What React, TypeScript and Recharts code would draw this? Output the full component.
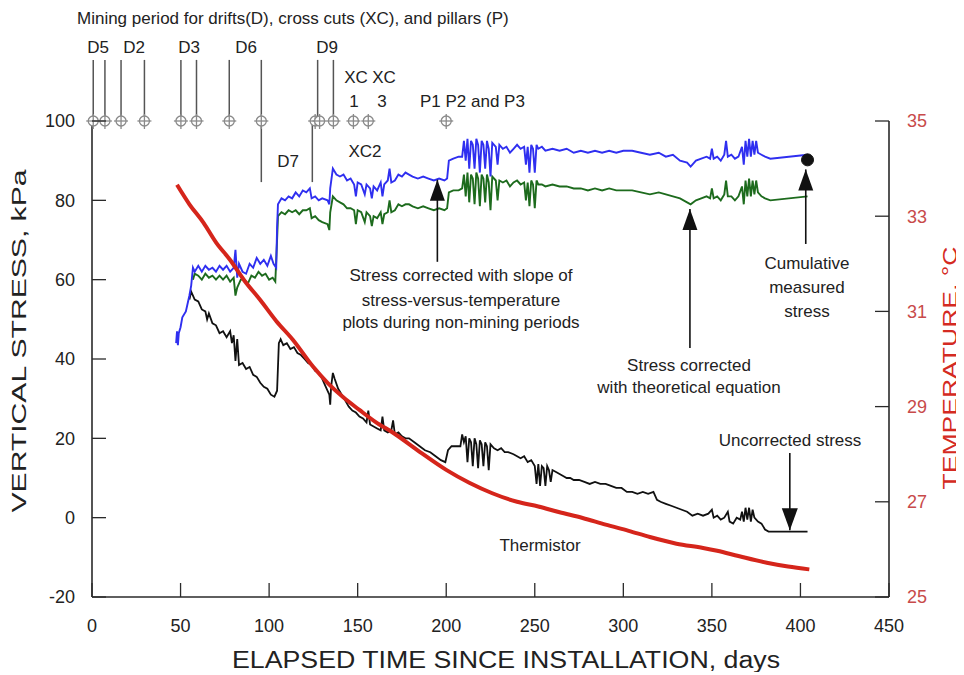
import React from 'react';
import { ComposedChart, Line, XAxis, YAxis, ReferenceLine, ReferenceDot } from 'recharts';

const FONT = '"Liberation Sans", Arial, Helvetica, sans-serif';

// ---------- axes ----------
const dayTicks = [0, 50, 100, 150, 200, 250, 300, 350, 400, 450];
const stressTicks = [-20, 0, 20, 40, 60, 80, 100];
const tempTicks = [25, 27, 29, 31, 33, 35];

// ---------- series (day, value) ----------
const slopeCorrected: [number, number][] = [
  [47.5, 44], [48, 47], [48.5, 43.5], [49, 46.5], [50, 48], [51, 50.5], [53, 52], [55, 56], [56, 58.5], [57, 63],
  [58, 62], [60, 63.5], [62, 62], [64, 63.5], [66, 62.5], [68, 63], [70, 62], [72, 63.5], [74, 62.5], [76, 63.5],
  [78, 62], [80, 63], [81, 67.5], [82, 60.5], [83, 64], [85, 62], [87, 61.5], [89, 64], [91, 63], [93, 65.5],
  [95, 64], [97, 65], [99, 63.5], [101, 66], [102.5, 64], [104, 63], [104.5, 73], [105, 79], [107, 80.5], [109, 80],
  [111, 81], [113, 80.5], [115, 82], [117, 81], [119, 82.5], [121, 82], [123, 83], [124, 80.5], [126, 81], [128, 80],
  [130, 80.5], [133, 80], [134, 79], [134.5, 83], [136, 88], [138, 86.5], [140, 86], [142, 86.5], [144, 85], [146, 85.5],
  [148, 84], [149, 81], [150, 84.5], [152, 84], [154, 81.5], [155, 84], [157, 83], [158, 80.5], [159, 83.5], [161, 82.5],
  [163, 84.5], [164, 81], [165, 84], [167, 85], [168, 88], [169, 84.5], [171, 85], [173, 86.5], [175, 86], [177, 87],
  [179, 86.5], [181, 86], [184, 85.5], [187, 86], [190, 85.5], [193, 85], [196, 85.5], [199, 85], [200.5, 85.5], [201.5, 90],
  [204, 90.5], [207, 91], [209, 91], [210, 95], [211, 90], [212, 95.5], [213, 88], [214, 95], [215, 94], [216, 88],
  [217, 95.5], [218, 94], [219, 87], [220, 95], [221, 94], [222, 88], [223, 95], [224, 93], [225, 86], [226, 94.5],
  [228, 93.5], [229, 89], [230, 94], [232, 93], [234, 93.5], [236, 92], [238, 93], [240, 94], [242, 93], [244, 93.5],
  [245, 89], [246, 93.5], [247, 87], [248, 94], [249, 93], [250, 87], [251, 94], [252, 93], [254, 93.5], [256, 92.5],
  [260, 93], [264, 92.5], [268, 93], [272, 92], [276, 92.5], [280, 92], [284, 92.5], [288, 92], [292, 92.5], [296, 92],
  [300, 92.5], [305, 92.5], [310, 92], [315, 91.5], [320, 92], [324, 91], [328, 91.5], [332, 90], [336, 89.5], [338, 88.5],
  [341, 90], [344, 90.5], [347, 91], [349, 90.5], [350, 93], [351, 90.5], [353, 91], [355, 90], [357, 91.5], [358, 95],
  [359, 91], [361, 91.5], [363, 90.5], [365, 91], [367, 93.5], [368, 89], [369, 95], [370, 91], [371, 95.5], [372, 91],
  [373, 95], [374, 91.5], [375, 95], [376, 92], [378, 91.5], [380, 91], [383, 90.5], [404, 91.5],
];

const theoryCorrected: [number, number][] = [
  [57, 60], [58, 61.5], [60, 61], [62, 60], [64, 61.5], [66, 60.5], [68, 61], [70, 60], [72, 61], [74, 60],
  [76, 61], [78, 59.5], [80, 60.5], [81, 56], [82, 58], [84, 60], [86, 60], [88, 59], [90, 61], [92, 60.5],
  [94, 62], [96, 61], [98, 61.5], [100, 60], [102, 60.5], [103.5, 59.5], [104.5, 70], [105, 76], [107, 77], [109, 76.5],
  [111, 77.5], [113, 77], [115, 77.5], [117, 76.5], [119, 77.5], [121, 77.5], [123, 78], [124, 75.5], [126, 76], [128, 75],
  [130, 74.5], [133, 74], [134, 72.5], [134.5, 77], [136, 81], [138, 80], [140, 79.5], [142, 79], [144, 78], [146, 78],
  [148, 77.5], [149, 74], [150, 77.5], [152, 77], [154, 74.5], [155, 77], [157, 76], [158, 73.5], [159, 76], [161, 75.5],
  [163, 77], [164, 74], [165, 76.5], [167, 77], [168, 80], [169, 77], [171, 77.5], [173, 79], [175, 78.5], [177, 79],
  [179, 79], [181, 78.5], [184, 78], [187, 78.5], [190, 78], [193, 77.5], [196, 78], [199, 77.5], [200.5, 78], [201.5, 82],
  [204, 82.5], [207, 82.5], [209, 83], [210, 86.5], [211, 81], [212, 87], [213, 79.5], [214, 86.5], [215, 85.5], [216, 79],
  [217, 87], [218, 85.5], [219, 78.5], [220, 86.5], [221, 85.5], [222, 79.5], [223, 86.5], [224, 84.5], [225, 77.5], [226, 86],
  [228, 85], [229, 80], [230, 85], [232, 84.5], [234, 85], [236, 83.5], [238, 84.5], [240, 85], [242, 84], [244, 84.5],
  [245, 80], [246, 84.5], [247, 78.5], [248, 85], [249, 84], [250, 78], [251, 85], [252, 84], [254, 84], [256, 83.5],
  [260, 84], [264, 83.5], [268, 83.5], [272, 83], [276, 83], [280, 82.5], [284, 83], [288, 82.5], [292, 83], [296, 82.5],
  [300, 82.5], [305, 82.5], [310, 82], [315, 81.5], [320, 82], [324, 81.5], [328, 81], [332, 80.5], [336, 79.5], [338, 79],
  [341, 80], [344, 80.5], [347, 81], [349, 80.5], [350, 83], [351, 80.5], [353, 81], [355, 80], [357, 81.5], [358, 85],
  [359, 81], [361, 81], [363, 80], [365, 81], [367, 83.5], [368, 79], [369, 85], [370, 81], [371, 85.5], [372, 81],
  [373, 85], [374, 81.5], [375, 85], [376, 82], [378, 81], [380, 80.5], [383, 80], [404, 81],
];

const uncorrected: [number, number][] = [
  [55, 55], [56, 57], [58, 55], [60, 54.5], [62, 52.5], [64, 52], [65, 50], [66, 51.5], [68, 49], [70, 48.5],
  [72, 46.5], [74, 47], [76, 45.5], [78, 47], [79, 44], [80, 46], [81, 39.5], [82, 45], [83, 38.5], [85, 39],
  [87, 37.5], [89, 38], [91, 36], [93, 35.5], [95, 34], [97, 33], [99, 32.5], [101, 31], [103, 30.5], [104.5, 32],
  [105.5, 44], [106.5, 45], [108, 43.5], [110, 44], [112, 42.5], [114, 43], [116, 41.5], [118, 41], [120, 40], [122, 39],
  [124, 38.5], [126, 37], [128, 36.5], [130, 35], [132, 33], [134, 31], [134.5, 28.5], [135, 33], [136, 36.5], [137, 35],
  [139, 32.5], [141, 31], [143, 29.5], [145, 28], [147, 27], [149, 26.5], [151, 25.5], [153, 25], [155, 24], [156, 27],
  [157, 23.5], [159, 23], [161, 22.5], [163, 22], [164, 25.5], [165, 22], [167, 21.5], [169, 22], [170, 24.5], [171, 21],
  [173, 21.5], [175, 20.5], [177, 20], [179, 20], [182, 19], [185, 18], [188, 17], [191, 16.5], [194, 15.5], [197, 14.5],
  [199.5, 14], [201, 17], [203, 18], [206, 18], [208, 18], [209, 21], [210, 19], [211, 20.5], [212, 14], [213, 20],
  [214, 19], [215, 13], [216, 20], [217, 18.5], [218, 12.5], [219, 19.5], [220, 18.5], [221, 13], [222, 19], [223, 18],
  [224, 12], [225, 18.5], [227, 17.5], [229, 17], [231, 17.5], [233, 16.5], [235, 16.5], [238, 16], [240, 15.5], [242, 15],
  [244, 15.5], [246, 14], [248, 14.5], [250, 13], [251, 8.5], [252, 13.5], [253, 8], [254, 13], [255, 12.5], [256, 8],
  [257, 13], [258, 12], [259, 9], [260, 12], [262, 11.5], [264, 11], [266, 10.5], [268, 10], [270, 10], [272, 9.5],
  [275, 9.5], [278, 9], [281, 8.5], [284, 9], [287, 8.5], [290, 8.5], [293, 8], [296, 7.5], [299, 7.5], [302, 6.5],
  [305, 6.5], [308, 6], [311, 6.5], [314, 6], [317, 6.5], [319, 4.5], [321, 4], [324, 3.5], [327, 3], [330, 2.5],
  [333, 2], [336, 1.5], [339, 0.5], [342, 1], [345, 0.5], [348, 1], [350, 2], [351, 0], [353, 0.5], [355, -0.5],
  [357, 0], [359, 1.5], [360, -1], [362, -1.5], [364, 0], [366, -0.5], [367, 1.5], [368, -1], [369, 2.5], [370, -0.5],
  [371, 2.5], [372, -1], [373, 2], [374, 0], [376, -1], [378, -1.5], [380, -3], [382, -3.5], [404, -3.5],
];

const thermistor: [number, number][] = [
  [48, 33.66], [55, 33.25], [63, 32.86], [70, 32.45], [78, 32.08], [86, 31.65], [95, 31.24], [104, 30.8], [113.5, 30.4],
  [125, 29.83], [133, 29.5], [141.7, 29.2], [151, 28.93], [160, 28.68], [170, 28.45], [185, 28.05], [200, 27.67],
  [213, 27.4], [226, 27.18], [240, 27.0], [252, 26.9], [264, 26.78], [277, 26.66], [290, 26.52], [303, 26.39],
  [315, 26.26], [330, 26.12], [345, 26.03], [353, 25.97], [365, 25.86], [381, 25.72], [393, 25.64], [405, 25.58],
];

// ---------- mining periods (days) ----------
const miningMarkers = [0.7, 7.3, 16.4, 29.6, 50.2, 59, 77.5, 95.6, 126, 128.5, 136.3, 147.6, 156, 200];
const miningLinesUp = [0.7, 7.3, 16.4, 29.6, 50.2, 59, 77.5, 95.6, 127.4, 136.3];
const miningLinesDown = [95.6, 124.4];
const MARKER_LEVEL = 100;
const LINE_UP_END = 115.4;
const LINE_DOWN_END = 84.6;

// ---------- annotation arrows (day, from kPa, to kPa) ----------
const arrowsUp = [
  { day: 195, from: 64.5, to: 85.2 },
  { day: 337.6, from: 42.8, to: 77.8 },
  { day: 403, from: 69, to: 87.8 },
];
const arrowsDown = [{ day: 394, from: 16.3, to: -3.2 }];
const cumulativeStress = { day: 404, value: 90.2 };

const rows = (pts: [number, number][]) => pts.map(([d, v]) => ({ d, v }));

const AX = '#2a2a2a';

const BottomTick = (p: any) => (
  <g>
    <line x1={p.x} y1={p.y} x2={p.x} y2={p.y - 14} stroke={AX} strokeWidth={1.3} />
    <text x={p.x} y={p.y + 35} textAnchor="middle" fontSize={18} fill="#222" fontFamily={FONT}>
      {p.payload.value}
    </text>
  </g>
);
const TopTick = (p: any) => (
  <line x1={p.x} y1={p.y} x2={p.x} y2={p.y + 12} stroke={AX} strokeWidth={1.3} />
);
const LeftTick = (p: any) => (
  <g>
    <line x1={p.x} y1={p.y} x2={p.x + 14} y2={p.y} stroke={AX} strokeWidth={1.3} />
    <text x={p.x - 17} y={p.y} dy="0.36em" textAnchor="end" fontSize={18} fill="#222" fontFamily={FONT}>
      {p.payload.value}
    </text>
  </g>
);
const RightTick = (p: any) => (
  <g>
    <line x1={p.x} y1={p.y} x2={p.x - 14} y2={p.y} stroke={AX} strokeWidth={1.3} />
    <text x={p.x + 18} y={p.y} dy="0.36em" textAnchor="start" fontSize={18} fill="#c84a4a" fontFamily={FONT}>
      {p.payload.value}
    </text>
  </g>
);

const Crosshair = (p: any) => (
  <g>
    <circle cx={p.cx} cy={p.cy} r={5} fill="#fff" stroke="#8a8a8a" strokeWidth={1.3} />
    <line x1={p.cx - 7} y1={p.cy} x2={p.cx + 7} y2={p.cy} stroke="#8a8a8a" strokeWidth={1.3} />
    <line x1={p.cx} y1={p.cy - 7} x2={p.cx} y2={p.cy + 8} stroke="#8a8a8a" strokeWidth={1.3} />
  </g>
);
const HeadUp = (p: any) => <path d={`M${p.cx},${p.cy} l-7.5,21 l15,0 z`} fill="#111" />;
const HeadDown = (p: any) => <path d={`M${p.cx},${p.cy} l-8,-22 l16,0 z`} fill="#111" />;

const W = 948;
const H = 664;

const T = (props: any) => <text fontFamily={FONT} fill="#222" {...props} />;

export default function App() {
  const ids = { xAxisId: 'b', yAxisId: 's' };
  return (
    <div style={{ position: 'relative', width: W, height: H, background: '#fff' }}>
      <ComposedChart width={W} height={H} margin={{ top: 113, right: 0, bottom: 0, left: 0 }}>
        <XAxis
          xAxisId="b"
          dataKey="d"
          type="number"
          domain={[0, 450]}
          ticks={dayTicks}
          interval={0}
          height={75}
          tickSize={0}
          tickMargin={0}
          tick={BottomTick}
          axisLine={{ stroke: AX, strokeWidth: 1.6 }}
          tickLine={false}
          allowDataOverflow
        />
        <XAxis
          xAxisId="top"
          orientation="top"
          dataKey="d"
          type="number"
          domain={[0, 450]}
          ticks={dayTicks}
          interval={0}
          height={0}
          tickSize={0}
          tickMargin={0}
          tick={TopTick}
          axisLine={{ stroke: AX, strokeWidth: 1.6 }}
          tickLine={false}
        />
        <YAxis
          yAxisId="s"
          type="number"
          domain={[-20, 100]}
          ticks={stressTicks}
          interval={0}
          width={84}
          tickSize={0}
          tickMargin={0}
          tick={LeftTick}
          axisLine={{ stroke: AX, strokeWidth: 1.6 }}
          tickLine={false}
        />
        <YAxis
          yAxisId="t"
          orientation="right"
          type="number"
          domain={[25, 35]}
          ticks={tempTicks}
          interval={0}
          width={67}
          tickSize={0}
          tickMargin={0}
          tick={RightTick}
          axisLine={{ stroke: AX, strokeWidth: 1.6 }}
          tickLine={false}
        />

        {miningLinesUp.map((d, i) => (
          <ReferenceLine
            key={'u' + i}
            {...ids}
            segment={[{ x: d, y: MARKER_LEVEL }, { x: d, y: LINE_UP_END }]}
            stroke="#555"
            strokeWidth={1.5}
            ifOverflow="visible"
          />
        ))}
        {miningLinesDown.map((d, i) => (
          <ReferenceLine
            key={'dn' + i}
            {...ids}
            segment={[{ x: d, y: MARKER_LEVEL }, { x: d, y: LINE_DOWN_END }]}
            stroke="#555"
            strokeWidth={1.5}
            ifOverflow="visible"
          />
        ))}
        {miningMarkers.map((d, i) => (
          <ReferenceDot key={'m' + i} {...ids} x={d} y={MARKER_LEVEL} r={5} shape={Crosshair} ifOverflow="visible" />
        ))}

        <Line {...ids} data={rows(uncorrected)} dataKey="v" stroke="#111" strokeWidth={1.8} dot={false} isAnimationActive={false} type="linear" />
        <Line {...ids} data={rows(theoryCorrected)} dataKey="v" stroke="#1d6b1d" strokeWidth={1.9} dot={false} isAnimationActive={false} type="linear" />
        <Line {...ids} data={rows(slopeCorrected)} dataKey="v" stroke="#2f2ff0" strokeWidth={1.9} dot={false} isAnimationActive={false} type="linear" />
        <Line xAxisId="b" yAxisId="t" data={rows(thermistor)} dataKey="v" stroke="#d5251b" strokeWidth={4} dot={false} isAnimationActive={false} type="monotone" />

        {arrowsUp.map((a, i) => (
          <ReferenceLine key={'au' + i} {...ids} segment={[{ x: a.day, y: a.from }, { x: a.day, y: a.to }]} stroke="#111" strokeWidth={1.6} ifOverflow="visible" />
        ))}
        {arrowsUp.map((a, i) => (
          <ReferenceDot key={'ah' + i} {...ids} x={a.day} y={a.to} r={1} shape={HeadUp} ifOverflow="visible" />
        ))}
        {arrowsDown.map((a, i) => (
          <ReferenceLine key={'ad' + i} {...ids} segment={[{ x: a.day, y: a.from }, { x: a.day, y: a.to }]} stroke="#111" strokeWidth={1.6} ifOverflow="visible" />
        ))}
        {arrowsDown.map((a, i) => (
          <ReferenceDot key={'adh' + i} {...ids} x={a.day} y={a.to} r={1} shape={HeadDown} ifOverflow="visible" />
        ))}
        <ReferenceDot {...ids} x={cumulativeStress.day} y={cumulativeStress.value} r={6} fill="#111" stroke="#111" ifOverflow="visible" />
      </ComposedChart>

      <svg width={956} height={H} style={{ position: 'absolute', left: 0, top: 0, pointerEvents: 'none', overflow: 'visible' }}>
        <T x={69} y={16} fontSize={17}>Mining period for drifts(D), cross cuts (XC), and pillars (P)</T>
        <T x={90} y={45} fontSize={17} textAnchor="middle">D5</T>
        <T x={126} y={45} fontSize={17} textAnchor="middle">D2</T>
        <T x={181} y={45} fontSize={17} textAnchor="middle">D3</T>
        <T x={238} y={45} fontSize={17} textAnchor="middle">D6</T>
        <T x={319} y={45} fontSize={17} textAnchor="middle">D9</T>
        <T x={348} y={75} fontSize={17} textAnchor="middle">XC</T>
        <T x={376} y={75} fontSize={17} textAnchor="middle">XC</T>
        <T x={346} y={99} fontSize={17} textAnchor="middle">1</T>
        <T x={374} y={99} fontSize={17} textAnchor="middle">3</T>
        <T x={412} y={99} fontSize={17}>P1 P2 and P3</T>
        <T x={280} y={159} fontSize={17} textAnchor="middle">D7</T>
        <T x={357} y={149} fontSize={17} textAnchor="middle">XC2</T>

        <T x={453} y={273} fontSize={17} textAnchor="middle">Stress corrected with slope of</T>
        <T x={453} y={298} fontSize={17} textAnchor="middle">stress-versus-temperature</T>
        <T x={453} y={320} fontSize={17} textAnchor="middle">plots during non-mining periods</T>
        <T x={681} y={363} fontSize={17} textAnchor="middle">Stress corrected</T>
        <T x={681} y={385} fontSize={17} textAnchor="middle">with theoretical equation</T>
        <T x={799} y={261} fontSize={17} textAnchor="middle">Cumulative</T>
        <T x={799} y={285} fontSize={17} textAnchor="middle">measured</T>
        <T x={799} y={309} fontSize={17} textAnchor="middle">stress</T>
        <T x={782} y={438} fontSize={17} textAnchor="middle">Uncorrected stress</T>
        <T x={532} y={543} fontSize={17} textAnchor="middle">Thermistor</T>

        <T x={498} y={660} fontSize={23} textAnchor="middle" textLength={548} lengthAdjust="spacingAndGlyphs">
          ELAPSED TIME SINCE INSTALLATION, days
        </T>
        <T x={0} y={0} fontSize={21} textAnchor="middle" transform="translate(18,333) rotate(-90)" textLength={343} lengthAdjust="spacingAndGlyphs">
          VERTICAL STRESS, kPa
        </T>
        <T x={0} y={0} fontSize={20} fill="#d42a22" textAnchor="middle" transform="translate(949,360) rotate(-90)" textLength={243} lengthAdjust="spacingAndGlyphs">
          TEMPERATURE, °C
        </T>
      </svg>
    </div>
  );
}
